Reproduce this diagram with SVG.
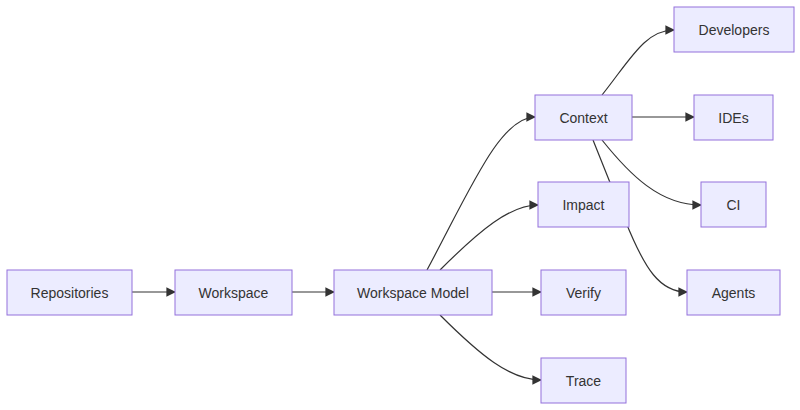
<svg xmlns="http://www.w3.org/2000/svg" width="800" height="410" viewBox="0 0 800 410">
<style>
.n rect{fill:#ECECFF;stroke:#9370DB;stroke-width:1}
.n text{font-family:"Liberation Sans",Arial,sans-serif;font-size:14px;fill:#333;text-anchor:middle;dominant-baseline:central}
.e path{fill:none;stroke:#333;stroke-width:1.2;marker-end:url(#a)}
</style>
<defs><marker id="a" viewBox="0 0 10 10" refX="9" refY="5" markerWidth="8" markerHeight="8" orient="auto"><path d="M0,0L10,5L0,10z" fill="#333"/></marker></defs>
<rect width="800" height="410" fill="#fff"/>
<g id="edges" class="e">
<path d="M132,292H175"/>
<path d="M292,292H334"/>
<path d="M492,292H541"/>
<path d="M427,270C470,190 500,117 535,117"/>
<path d="M440,270C480,230 510,205 538,205"/>
<path d="M440,315C480,355 510,380 541,380"/>
<path d="M602,95C630,60 645,30 674,30"/>
<path d="M632,117H694"/>
<path d="M602,140C630,175 660,205 701,205"/>
<path d="M593,140L625,220C645,270 660,292 687,292"/>
</g>
<g id="repositories" class="n"><rect x="7" y="270" width="125" height="45"/><text x="69.5" y="292.5">Repositories</text></g>
<g id="workspace" class="n"><rect x="175" y="270" width="117" height="45"/><text x="233.5" y="292.5">Workspace</text></g>
<g id="workspace-model" class="n"><rect x="334" y="270" width="158" height="45"/><text x="413" y="292.5">Workspace Model</text></g>
<g id="verify" class="n"><rect x="541" y="270" width="85" height="45"/><text x="583.5" y="292.5">Verify</text></g>
<g id="trace" class="n"><rect x="541" y="358" width="85" height="45"/><text x="583.5" y="380.5">Trace</text></g>
<g id="impact" class="n"><rect x="538" y="182" width="91" height="45"/><text x="583.5" y="204.5">Impact</text></g>
<g id="context" class="n"><rect x="535" y="95" width="97" height="45"/><text x="583.5" y="117.5">Context</text></g>
<g id="developers" class="n"><rect x="674" y="7" width="120" height="45"/><text x="734" y="29.5">Developers</text></g>
<g id="ides" class="n"><rect x="694" y="95" width="79" height="45"/><text x="733.5" y="117.5">IDEs</text></g>
<g id="ci" class="n"><rect x="701" y="182" width="65" height="45"/><text x="733.5" y="204.5">CI</text></g>
<g id="agents" class="n"><rect x="687" y="270" width="93" height="45"/><text x="733.5" y="292.5">Agents</text></g>
</svg>
